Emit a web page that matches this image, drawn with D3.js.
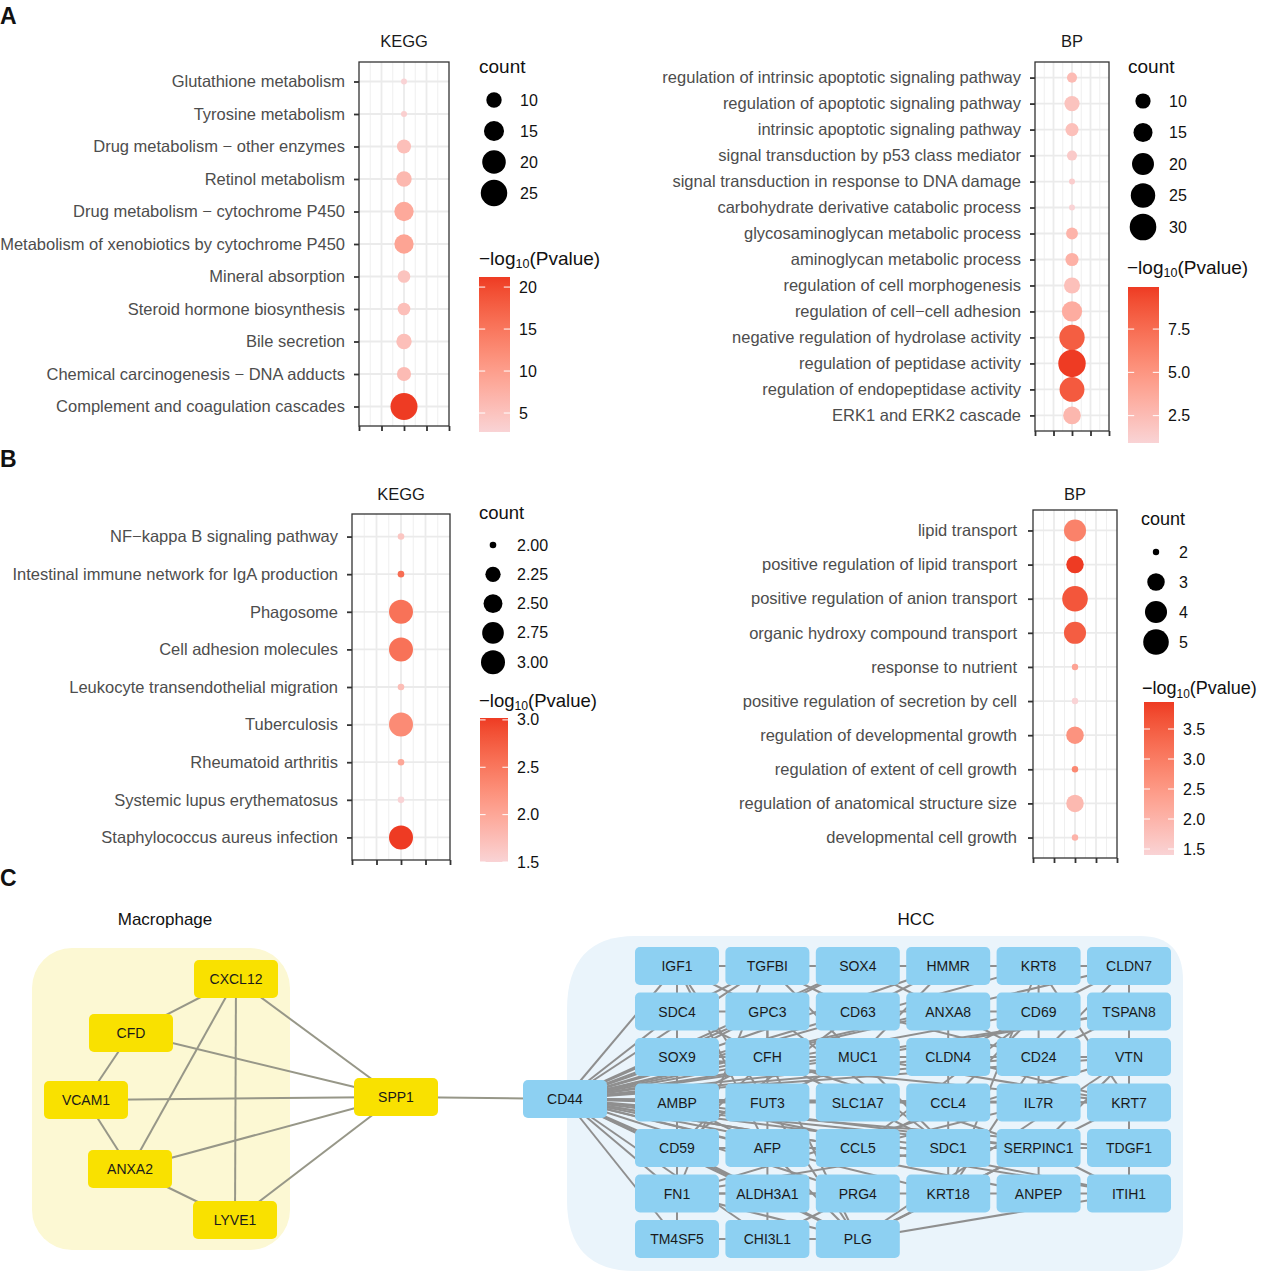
<!DOCTYPE html>
<html><head><meta charset="utf-8">
<script src="https://cdn.jsdelivr.net/npm/d3@7"></script>
<style>
html,body{margin:0;padding:0;background:#fff;}
svg{display:block;font-family:"Liberation Sans",Arial,Helvetica,sans-serif;}
</style></head>
<body>
<svg id="fig" width="1262" height="1271"></svg>
<script>
// ---------------- DATA ----------------
const aKeggTerms = ["Glutathione metabolism","Tyrosine metabolism","Drug metabolism \u2212 other enzymes","Retinol metabolism","Drug metabolism \u2212 cytochrome P450","Metabolism of xenobiotics by cytochrome P450","Mineral absorption","Steroid hormone biosynthesis","Bile secretion","Chemical carcinogenesis \u2212 DNA adducts","Complement and coagulation cascades"];
const aKeggCount = [6,6,9,10,14,14,8,8,10,9,26];
const aKeggLogP  = [2.74,3.3,5.5,6.5,8.5,9.2,5.0,5.5,5.5,6.0,21.2];
const aKeggSizeBreaks = [10,15,20,25];
const aKeggColorBreaks = [5,10,15,20];

const aBpTerms = ["regulation of intrinsic apoptotic signaling pathway","regulation of apoptotic signaling pathway","intrinsic apoptotic signaling pathway","signal transduction by p53 class mediator","signal transduction in response to DNA damage","carbohydrate derivative catabolic process","glycosaminoglycan metabolic process","aminoglycan metabolic process","regulation of cell morphogenesis","regulation of cell\u2212cell adhesion","negative regulation of hydrolase activity","regulation of peptidase activity","regulation of endopeptidase activity","ERK1 and ERK2 cascade"];
const aBpCount = [6,10,8,6,5,5,7,8,11,17,27,32,26,13];
const aBpLogP  = [2.5,2.0,2.2,1.5,1.3,0.92,3.0,3.2,2.2,3.5,8.3,9.93,8.5,2.8];
const aBpSizeBreaks = [10,15,20,25,30];
const aBpColorBreaks = [2.5,5.0,7.5];

const bKeggTerms = ["NF\u2212kappa B signaling pathway","Intestinal immune network for IgA production","Phagosome","Cell adhesion molecules","Leukocyte transendothelial migration","Tuberculosis","Rheumatoid arthritis","Systemic lupus erythematosus","Staphylococcus aureus infection"];
const bKeggCount = [2,2,3,3,2,3,2,2,3];
const bKeggLogP  = [1.65,2.6,2.55,2.55,1.75,2.3,2.0,1.5,3.02];
const bKeggSizeBreaks = [2.00,2.25,2.50,2.75,3.00];
const bKeggColorBreaks = [1.5,2.0,2.5,3.0];

const bBpTerms = ["lipid transport","positive regulation of lipid transport","positive regulation of anion transport","organic hydroxy compound transport","response to nutrient","positive regulation of secretion by cell","regulation of developmental growth","regulation of extent of cell growth","regulation of anatomical structure size","developmental cell growth"];
const bBpCount = [4,3,5,4,2,2,3,2,3,2];
const bBpLogP  = [2.9,3.95,3.6,3.5,2.3,1.4,2.6,2.8,1.9,2.0];
const bBpSizeBreaks = [2,3,4,5];
const bBpColorBreaks = [1.5,2.0,2.5,3.0,3.5];

// network
const macroGenes = ["CXCL12","CFD","VCAM1","ANXA2","LYVE1"];
const hccGenes = ["IGF1","TGFBI","SOX4","HMMR","KRT8","CLDN7",
 "SDC4","GPC3","CD63","ANXA8","CD69","TSPAN8",
 "SOX9","CFH","MUC1","CLDN4","CD24","VTN",
 "AMBP","FUT3","SLC1A7","CCL4","IL7R","KRT7",
 "CD59","AFP","CCL5","SDC1","SERPINC1","TDGF1",
 "FN1","ALDH3A1","PRG4","KRT18","ANPEP","ITIH1",
 "TM4SF5","CHI3L1","PLG"];
const macroEdges = [["CXCL12","CFD"],["CXCL12","ANXA2"],["CXCL12","LYVE1"],["CXCL12","SPP1"],["CFD","VCAM1"],["CFD","SPP1"],["VCAM1","SPP1"],["VCAM1","ANXA2"],["ANXA2","SPP1"],["ANXA2","LYVE1"],["LYVE1","SPP1"],["SPP1","CD44"]];
const hccEdges = [["IGF1","TGFBI"],["IGF1","SDC4"],["IGF1","AFP"],["IGF1","FN1"],["IGF1","SOX9"],["IGF1","PLG"],["TGFBI","FN1"],["TGFBI","SOX4"],["TGFBI","SDC1"],["TGFBI","CD63"],["SOX4","SOX9"],["SOX4","HMMR"],["SOX4","CD24"],["HMMR","KRT8"],["HMMR","CD63"],["HMMR","MUC1"],["KRT8","KRT18"],["KRT8","CLDN7"],["KRT8","KRT7"],["KRT8","CD69"],["CLDN7","TSPAN8"],["CLDN7","CLDN4"],["CLDN7","CD24"],["SDC4","FN1"],["SDC4","GPC3"],["SDC4","SDC1"],["SDC4","TGFBI"],["GPC3","AFP"],["GPC3","CFH"],["GPC3","SDC1"],["GPC3","IGF1"],["CD63","ANXA8"],["CD63","CD24"],["CD63","CD59"],["ANXA8","CD69"],["ANXA8","CLDN4"],["CD69","CCL4"],["CD69","IL7R"],["CD69","CCL5"],["TSPAN8","VTN"],["TSPAN8","CD24"],["TSPAN8","MUC1"],["SOX9","CFH"],["SOX9","AMBP"],["SOX9","CD24"],["SOX9","KRT7"],["CFH","MUC1"],["CFH","AMBP"],["CFH","PLG"],["CFH","SERPINC1"],["CFH","CD59"],["MUC1","CLDN4"],["MUC1","CD24"],["MUC1","KRT7"],["MUC1","FUT3"],["CLDN4","CD24"],["CLDN4","KRT7"],["CLDN4","KRT18"],["CD24","VTN"],["CD24","KRT18"],["VTN","KRT7"],["VTN","PLG"],["VTN","SERPINC1"],["VTN","FN1"],["AMBP","FUT3"],["AMBP","ITIH1"],["AMBP","AFP"],["AMBP","SERPINC1"],["FUT3","SLC1A7"],["SLC1A7","CCL4"],["CCL4","IL7R"],["CCL4","CCL5"],["IL7R","KRT7"],["IL7R","CCL5"],["KRT7","KRT18"],["KRT7","TDGF1"],["CD59","AFP"],["CD59","CCL5"],["CD59","PLG"],["AFP","CCL5"],["AFP","SERPINC1"],["AFP","ALDH3A1"],["AFP","PLG"],["CCL5","SDC1"],["SDC1","SERPINC1"],["SDC1","FN1"],["SERPINC1","TDGF1"],["SERPINC1","ANPEP"],["SERPINC1","PLG"],["SERPINC1","ITIH1"],["TDGF1","ITIH1"],["FN1","ALDH3A1"],["FN1","TM4SF5"],["FN1","PLG"],["FN1","PRG4"],["ALDH3A1","PRG4"],["ALDH3A1","CHI3L1"],["PRG4","KRT18"],["PRG4","CHI3L1"],["KRT18","ANPEP"],["ANPEP","ITIH1"],["TM4SF5","CHI3L1"],["CHI3L1","PLG"],["PLG","KRT18"],["PLG","ITIH1"]];

// ---------------- DRAW ----------------
const svg = d3.select("#fig");
const LOW = "#F9D3D5", HIGH = "#EE3B23";
const AX_TXT = "#4D4D4D";

function sizeFn(cmin, cmax, rmin, rmax){
  const t = d3.scaleLinear().domain([cmin,cmax]).range([0,1]).clamp(true);
  return c => rmin + (rmax - rmin) * Math.sqrt(t(c));
}

function dotPlot(o){
  const g = svg.append("g");
  const y = d3.scalePoint().domain(o.terms).range([o.y0,o.y1]).padding(0.6);
  const x = d3.scaleLinear().domain([0,4]).range([o.x0,o.x1]);
  const col = d3.scaleLinear().domain(o.cdom).range([LOW,HIGH]).interpolate(d3.interpolateLab);
  const r = sizeFn(o.sdom[0], o.sdom[1], o.rr[0], o.rr[1]);
  g.append("rect").attr("x",o.x0).attr("y",o.y0).attr("width",o.x1-o.x0).attr("height",o.y1-o.y0).attr("fill","#fff");
  g.selectAll(".mn").data([0.5,1.5,2.5,3.5]).join("line")
    .attr("x1",d=>x(d)).attr("x2",d=>x(d)).attr("y1",o.y0).attr("y2",o.y1)
    .attr("stroke","#EFEFEF").attr("stroke-width",1);
  g.selectAll(".mj").data([1,2,3]).join("line")
    .attr("x1",d=>x(d)).attr("x2",d=>x(d)).attr("y1",o.y0).attr("y2",o.y1)
    .attr("stroke","#EBEBEB").attr("stroke-width",1.8);
  g.selectAll(".hg").data(o.terms).join("line")
    .attr("x1",o.x0).attr("x2",o.x1).attr("y1",d=>y(d)).attr("y2",d=>y(d))
    .attr("stroke","#EBEBEB").attr("stroke-width",1.8);
  g.selectAll(".pt").data(o.terms.map((t,i)=>({t,c:o.counts[i],p:o.logp[i]}))).join("circle")
    .attr("cx",x(2)).attr("cy",d=>y(d.t)).attr("r",d=>r(d.c)).attr("fill",d=>col(d.p));
  g.append("rect").attr("x",o.x0).attr("y",o.y0).attr("width",o.x1-o.x0).attr("height",o.y1-o.y0)
    .attr("fill","none").attr("stroke","#333").attr("stroke-width",1.3);
  const ya = d3.axisLeft(y).tickSize(5).tickPadding(o.tp || 9);
  const yg = g.append("g").attr("transform",`translate(${o.x0},0)`).call(ya);
  yg.select(".domain").remove();
  yg.selectAll(".tick line").attr("stroke","#333").attr("stroke-width",1.8);
  yg.selectAll(".tick text").attr("fill",AX_TXT).attr("font-size",16.5).attr("font-family","Liberation Sans, Arial, sans-serif");
  const xa = d3.axisBottom(x).ticks(4).tickSize(5).tickFormat("");
  const xg = g.append("g").attr("transform",`translate(0,${o.y1})`).call(xa);
  xg.select(".domain").remove();
  xg.selectAll(".tick line").attr("stroke","#333").attr("stroke-width",1.8);
  g.append("text").attr("x",(o.x0+o.x1)/2).attr("y",o.ty).attr("text-anchor","middle")
    .attr("dominant-baseline","central").attr("font-size",16.5).attr("fill","#1a1a1a").text(o.title);
  // size legend
  g.append("text").attr("x",o.lx).attr("y",o.ly).attr("dominant-baseline","central")
    .attr("font-size",o.lfs).attr("fill","#111").text("count");
  g.selectAll(".sl").data(o.sb).join("circle")
    .attr("cx",o.lcx).attr("cy",(d,i)=>o.lcy0+i*o.lstep).attr("r",d=>r(d)).attr("fill","#000");
  g.selectAll(".st").data(o.sb).join("text")
    .attr("x",o.ltx).attr("y",(d,i)=>o.lcy0+i*o.lstep).attr("dominant-baseline","central")
    .attr("font-size",16).attr("fill","#111").text(d=>o.sfmt(d));
  // colour legend
  const ct = g.append("text").attr("x",o.cx).attr("y",o.cty).attr("dominant-baseline","central")
    .attr("font-size",o.lfs).attr("fill","#111");
  ct.append("tspan").text("\u2212log");
  ct.append("tspan").attr("font-size",o.lfs*0.66).attr("dy",6).text("10");
  ct.append("tspan").attr("dy",-6).text("(Pvalue)");
  const gid = "grad"+o.id;
  const grad = svg.append("defs").append("linearGradient").attr("id",gid)
    .attr("x1",0).attr("x2",0).attr("y1",1).attr("y2",0);
  d3.range(0,1.0001,0.1).forEach(t=>{
    grad.append("stop").attr("offset",t).attr("stop-color",col(o.cdom[0]+t*(o.cdom[1]-o.cdom[0])));
  });
  const bw = o.cbw;
  g.append("rect").attr("x",o.cbx).attr("y",o.cby0).attr("width",bw).attr("height",o.cby1-o.cby0)
    .attr("fill",`url(#${gid})`);
  const cy = d3.scaleLinear().domain(o.cdom).range([o.cby1,o.cby0]);
  o.cb.forEach(v=>{
    g.append("line").attr("x1",o.cbx).attr("x2",o.cbx+bw*0.2).attr("y1",cy(v)).attr("y2",cy(v)).attr("stroke","#fff").attr("stroke-width",1);
    g.append("line").attr("x1",o.cbx+bw*0.8).attr("x2",o.cbx+bw).attr("y1",cy(v)).attr("y2",cy(v)).attr("stroke","#fff").attr("stroke-width",1);
    g.append("text").attr("x",o.cbx+bw+9).attr("y",cy(v)).attr("dominant-baseline","central")
      .attr("font-size",16).attr("fill","#111").text(o.cfmt(v));
  });
}

dotPlot({id:"ak",terms:aKeggTerms,counts:aKeggCount,logp:aKeggLogP,x0:359,x1:449,y0:62,y1:426,title:"KEGG",ty:41,lfs:19,
  cdom:[2.74,21.2],sdom:[6,26],rr:[3,13.5],
  lx:479,ly:66,lcx:494,lcy0:100,lstep:31,ltx:520,sb:aKeggSizeBreaks,sfmt:d3.format("d"),
  cx:479,cty:258,cbx:479,cbw:31,cby0:277,cby1:432,cb:aKeggColorBreaks,cfmt:d3.format("d")});

dotPlot({id:"ab",terms:aBpTerms,counts:aBpCount,logp:aBpLogP,x0:1035,x1:1109,y0:62,y1:431,title:"BP",ty:41,lfs:19,
  cdom:[0.92,9.93],sdom:[5,32],rr:[3,13.7],
  lx:1128,ly:66,lcx:1143,lcy0:101,lstep:31.5,ltx:1169,sb:aBpSizeBreaks,sfmt:d3.format("d"),
  cx:1127,cty:267,cbx:1128,cbw:31,cby0:287,cby1:443,cb:aBpColorBreaks,cfmt:d3.format(".1f")});

dotPlot({id:"bk",terms:bKeggTerms,counts:bKeggCount,logp:bKeggLogP,x0:352,x1:450,y0:514,y1:860,title:"KEGG",ty:494,lfs:18.5,
  cdom:[1.5,3.02],sdom:[2,3],rr:[3.3,12],
  lx:479,ly:512,lcx:493,lcy0:545,lstep:29.3,ltx:517,sb:bKeggSizeBreaks,sfmt:d3.format(".2f"),
  cx:479,cty:700,cbx:480,cbw:28,cby0:718,cby1:862,cb:bKeggColorBreaks,cfmt:d3.format(".1f")});

dotPlot({id:"bb",terms:bBpTerms,counts:bBpCount,logp:bBpLogP,x0:1033,x1:1117,y0:510,y1:858,title:"BP",ty:494,lfs:18,tp:11,
  cdom:[1.4,3.95],sdom:[2,5],rr:[3.2,12.8],
  lx:1141,ly:519,lcx:1156,lcy0:552,lstep:30,ltx:1179,sb:bBpSizeBreaks,sfmt:d3.format("d"),
  cx:1142,cty:688,cbx:1144,cbw:30,cby0:702,cby1:855,cb:bBpColorBreaks,cfmt:d3.format(".1f")});

[["A",24],["B",467],["C",886]].forEach(([t,yy])=>{
  svg.append("text").attr("x",0).attr("y",yy).attr("font-size",23).attr("font-weight","bold").attr("fill","#111").text(t);
});

// ---------------- NETWORK ----------------
const net = svg.append("g");
net.append("text").attr("x",165).attr("y",919).attr("text-anchor","middle").attr("dominant-baseline","central").attr("font-size",17).attr("fill","#111").text("Macrophage");
net.append("text").attr("x",916).attr("y",919).attr("text-anchor","middle").attr("dominant-baseline","central").attr("font-size",17).attr("fill","#111").text("HCC");

net.append("rect").attr("x",32).attr("y",948).attr("width",258).attr("height",302).attr("rx",40).attr("fill","#FCF8D3");
net.append("path").attr("d","M635,936 L1140,936 Q1183,936 1183,980 L1183,1228 Q1183,1271 1140,1271 L635,1271 Q567,1271 567,1200 L567,1010 Q567,936 635,936 Z").attr("fill","#EAF4FB");

const pos = {};
const macroLayout = {CXCL12:[236,979],CFD:[131,1033],VCAM1:[86,1100],ANXA2:[130,1169],LYVE1:[235,1220]};
macroGenes.forEach(g=>pos[g]=macroLayout[g]);
pos.SPP1=[396,1097]; pos.CD44=[565,1099];
const gx = d3.scaleLinear().domain([0,5]).range([677,1129]);
const gy = d3.scaleLinear().domain([0,6]).range([966,1239]);
hccGenes.forEach((g,i)=>{ pos[g]=[gx(i%6), gy(Math.floor(i/6))]; });

const allEdges = hccEdges.concat(hccGenes.map(g=>["CD44",g]));
net.selectAll(".he").data(allEdges).join("line")
  .attr("x1",d=>pos[d[0]][0]).attr("y1",d=>pos[d[0]][1])
  .attr("x2",d=>pos[d[1]][0]).attr("y2",d=>pos[d[1]][1])
  .attr("stroke","#8F8F8F").attr("stroke-width",2);
net.selectAll(".me").data(macroEdges).join("line")
  .attr("x1",d=>pos[d[0]][0]).attr("y1",d=>pos[d[0]][1])
  .attr("x2",d=>pos[d[1]][0]).attr("y2",d=>pos[d[1]][1])
  .attr("stroke","#979788").attr("stroke-width",2);

const NW=84, NH=38;
function nodes(list, fill){
  const ng = net.selectAll(null).data(list).join("g").attr("transform",d=>`translate(${pos[d][0]},${pos[d][1]})`);
  ng.append("rect").attr("x",-NW/2).attr("y",-NH/2).attr("width",NW).attr("height",NH).attr("rx",5).attr("fill",fill);
  ng.append("text").attr("text-anchor","middle").attr("dominant-baseline","central").attr("font-size",14).attr("fill","#1a1a1a").text(d=>d);
}
nodes(macroGenes.concat(["SPP1"]), "#F9E100");
nodes(["CD44"].concat(hccGenes), "#8DD0F2");
</script>
</body></html>
